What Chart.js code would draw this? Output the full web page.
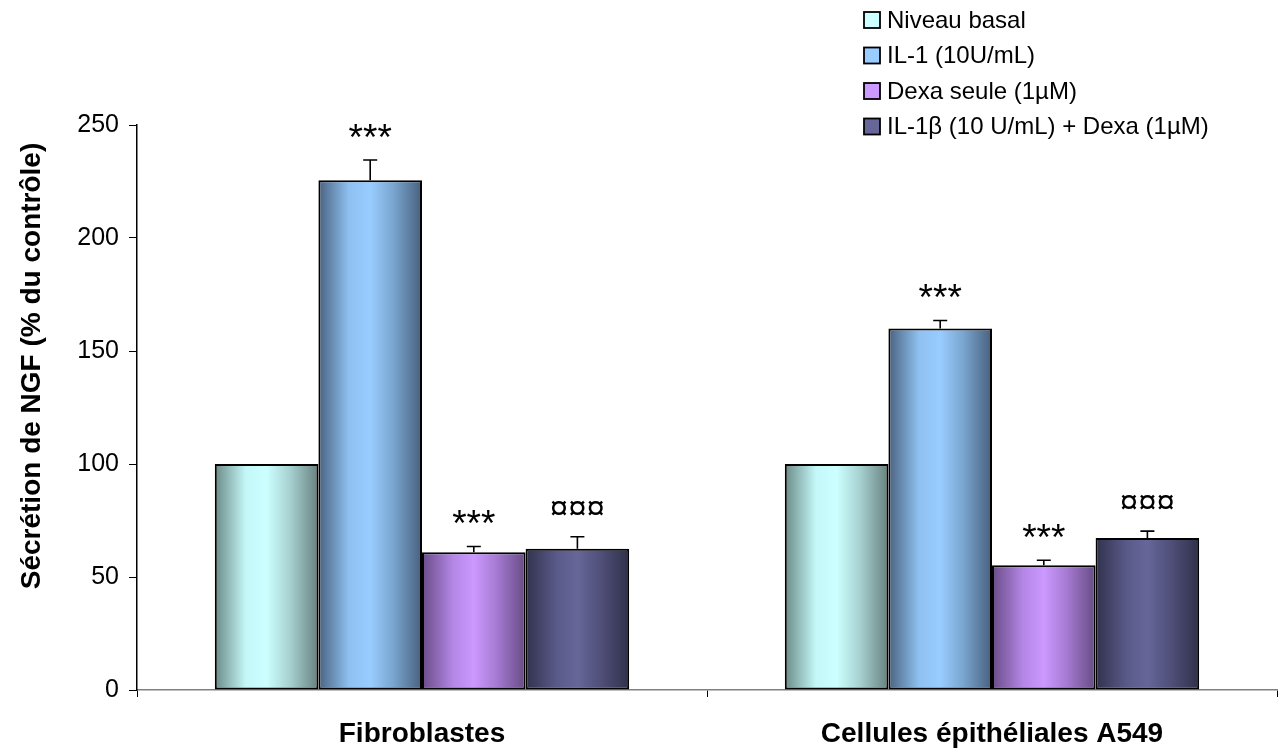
<!DOCTYPE html>
<html>
<head>
<meta charset="utf-8">
<script src="https://cdn.jsdelivr.net/npm/chart.js@4.4.0/dist/chart.umd.min.js"></script>
<style>
  html, body { margin: 0; padding: 0; background: #fff; }
  #wrap { width: 1278px; height: 749px; position: relative; }
</style>
</head>
<body>
<div id="wrap"><canvas id="ngfChart"></canvas></div>
<script>
// categories on the x axis
const categories = ["Fibroblastes", "Cellules épithéliales A549"];

// treatment names (legend)
const seriesLabels = ["Niveau basal", "IL-1 (10U/mL)", "Dexa seule (1µM)", "IL-1β (10 U/mL) + Dexa (1µM)"];

// mean NGF secretion, % of control
const basal = [100, 100];
const il1 = [225.5, 160];
const dexa = [61, 55.2];
const il1Dexa = [62.5, 67.3];

// upper error (SEM) for each bar
const errBasal = [0, 0];
const errIl1 = [9, 3.5];
const errDexa = [2.5, 2.2];
const errIl1Dexa = [5.3, 3];

// significance marks written above the bars
const marksBasal = ["", ""];
const marksIl1 = ["***", "***"];
const marksDexa = ["***", "***"];
const marksIl1Dexa = ["¤¤¤", "¤¤¤"];

// y axis ticks
const yMin = 0, yMax = 250, yStep = 50;

const FONT = "'Liberation Sans', Arial, sans-serif";
const CAT_PCT = 0.727;

// horizontal gradient stops per series (dark edge -> light middle -> dark edge)
const gradientStops = [
    [[0, '#6b8a87'], [0.3, '#c4f8f8'], [0.5, '#ccffff'], [0.72, '#a8d2d2'], [1, '#66827f']],
    [[0, '#4a6280'], [0.3, '#8fc2f2'], [0.5, '#99ccff'], [0.72, '#7aa6d0'], [1, '#48607e']],
    [[0, '#684c86'], [0.3, '#b486e6'], [0.5, '#cc99ff'], [0.72, '#a67ad2'], [1, '#664c84']],
    [[0, '#31314d'], [0.3, '#5a5a8a'], [0.5, '#666699'], [0.72, '#50507a'], [1, '#30304a']]
];
const legendColors = ['#ccffff', '#99ccff', '#cc99ff', '#666699'];

const values = [basal, il1, dexa, il1Dexa];
const errors = [errBasal, errIl1, errDexa, errIl1Dexa];
const marks = [marksBasal, marksIl1, marksDexa, marksIl1Dexa];

// gradient spanning the bar that is being drawn
function barGradient (ctx) {
    const chart = ctx.chart;
    const xs = chart.scales.x;
    if (!xs || !chart.chartArea) { return legendColors[ctx.datasetIndex]; }
    const catW = xs.width / categories.length;
    const groupW = catW * CAT_PCT;
    const barW = groupW / values.length;
    const left = xs.getPixelForValue(ctx.dataIndex) - groupW / 2 + ctx.datasetIndex * barW;
    const g = chart.ctx.createLinearGradient(left, 0, left + barW, 0);
    gradientStops[ctx.datasetIndex].forEach((s) => { g.addColorStop(s[0], s[1]); });
    return g;
}

// error bars (upper only) and significance marks
const errorBarPlugin = {
    id: 'errorBars',
    afterDatasetsDraw (chart) {
        const c = chart.ctx;
        const ys = chart.scales.y;
        c.save();
        chart.data.datasets.forEach((ds, di) => {
            const meta = chart.getDatasetMeta(di);
            meta.data.forEach((bar, i) => {
                const v = values[di][i], e = errors[di][i];
                const yTop = ys.getPixelForValue(v);
                const yErr = ys.getPixelForValue(v + e);
                if (e > 0) {
                    c.strokeStyle = '#000'; c.lineWidth = 1.6;
                    c.beginPath();
                    c.moveTo(bar.x, yTop); c.lineTo(bar.x, yErr);
                    c.moveTo(bar.x - 7, yErr); c.lineTo(bar.x + 7, yErr);
                    c.stroke();
                }
                const m = marks[di][i];
                if (m) {
                    c.fillStyle = '#000';
                    c.font = (m === '***' ? '37px ' : '33px ') + FONT;
                    c.textAlign = 'center';
                    c.textBaseline = 'alphabetic';
                    const tm = c.measureText(m);
                    const mid = yErr - 29;
                    c.fillText(m, bar.x, mid + (tm.actualBoundingBoxAscent - tm.actualBoundingBoxDescent) / 2);
                }
            });
        });
        c.restore();
    }
};

// legend in the top right corner and rotated y axis title
const decorPlugin = {
    id: 'decor',
    afterDraw (chart) {
        const c = chart.ctx;
        c.save();
        c.font = '24px ' + FONT;
        c.textBaseline = 'middle';
        c.textAlign = 'left';
        seriesLabels.forEach((label, i) => {
            const y = 20 + i * 35.5;
            c.fillStyle = legendColors[i];
            c.fillRect(864, y - 8, 16, 16);
            c.strokeStyle = '#000'; c.lineWidth = 1.8;
            c.strokeRect(864, y - 8, 16, 16);
            c.fillStyle = '#000';
            c.fillText(label, 887, y + 1);
        });
        c.translate(32, 366);
        c.rotate(-Math.PI / 2);
        c.font = 'bold 28px ' + FONT;
        c.textAlign = 'center';
        c.fillText('Sécrétion de NGF (% du contrôle)', 0, 0);
        c.restore();
    }
};

new Chart("ngfChart", {
    type: 'bar',
    data: {
        labels: categories,
        datasets: seriesLabels.map((label, i) => ({
            label: label,
            data: values[i],
            backgroundColor: barGradient,
            borderColor: '#000',
            borderWidth: 2,
            borderSkipped: false,
            barPercentage: 1,
            categoryPercentage: CAT_PCT
        }))
    },
    options: {
        responsive: true,
        maintainAspectRatio: false,
        animation: false,
        layout: { padding: { top: 125, right: 1, left: 0, bottom: 0 } },
        plugins: {
            legend: { display: false },
            tooltip: { enabled: false }
        },
        scales: {
            x: {
                grid: { display: true, offset: true, drawOnChartArea: false, drawTicks: true, tickLength: 7, color: '#000', lineWidth: 1 },
                border: { color: '#808080', width: 1.5 },
                ticks: { color: '#000', font: { family: FONT, size: 28, weight: 'bold' }, padding: 20, maxRotation: 0 },
                afterFit (scale) { scale.height = 59; }
            },
            y: {
                min: yMin, max: yMax,
                grid: { display: true, drawOnChartArea: false, drawTicks: true, tickLength: 8, color: '#000', lineWidth: 1 },
                border: { color: '#000', width: 1.5 },
                ticks: { stepSize: yStep, color: '#000', font: { family: FONT, size: 25 }, padding: 10 },
                afterFit (scale) { scale.width = 137; }
            }
        }
    },
    plugins: [errorBarPlugin, decorPlugin]
});
</script>
</body>
</html>
